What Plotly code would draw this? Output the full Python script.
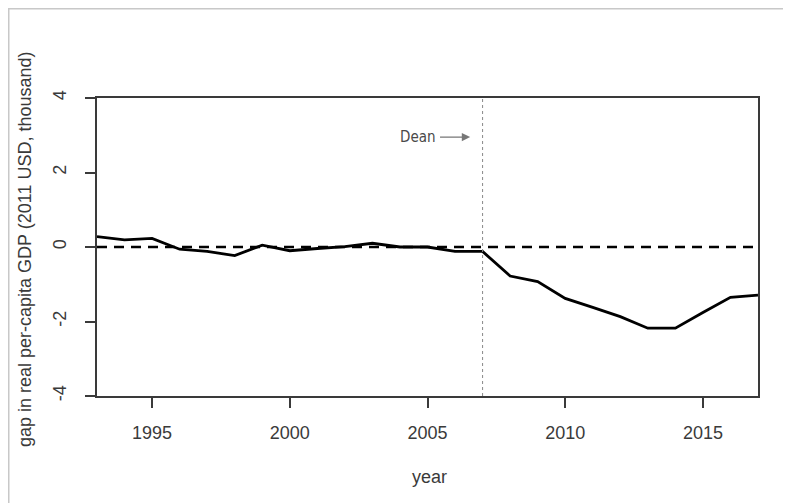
import plotly.graph_objects as go

years = list(range(1993, 2018))
gap = [0.28, 0.19, 0.23, -0.06, -0.12, -0.23, 0.05, -0.10, -0.04, 0.01,
       0.10, 0.00, 0.00, -0.12, -0.12, -0.78, -0.93, -1.38, -1.62, -1.87,
       -2.18, -2.18, -1.76, -1.35, -1.29]
x_ticks = [1995, 2000, 2005, 2010, 2015]
y_ticks = [-4, -2, 0, 2, 4]
y_tick_text = ["-4", "-2", "0", "2", "4"]
treat_year = 2007

FONT = "Liberation Sans, Arial, sans-serif"
GRAY = "#3a3a3a"

# page is drawn with an 8px body margin; work in page pixels and convert
OFF = 8
W, H = 791 - OFF, 503 - OFF
L, T = 97 - OFF, 98 - OFF
R = W - (758 - OFF)
B = H - (396 - OFF)
pw, ph = W - L - R, H - T - B


def px(xp):
    return (xp - OFF - L) / pw


def py(yp):
    return (H - B - (yp - OFF)) / ph


fig = go.Figure()
fig.add_trace(go.Scatter(x=[years[0], years[-1]], y=[0, 0], mode="lines",
                         line=dict(color="black", width=2.6, dash="10px,7px"),
                         hoverinfo="skip", showlegend=False))
fig.add_trace(go.Scatter(x=years, y=gap, mode="lines",
                         line=dict(color="black", width=2.8),
                         showlegend=False))

fig.add_vline(x=treat_year, line=dict(color="#888888", width=1, dash="dot"))

axis_common = dict(showgrid=False, zeroline=False, showline=True, mirror=True,
                   linecolor=GRAY, linewidth=1.6, ticks="outside", ticklen=10,
                   tickwidth=1.6, tickcolor=GRAY,
                   tickfont=dict(family=FONT, size=18, color=GRAY))

fig.update_xaxes(range=[1993, 2017], tickvals=x_ticks, ticklabelstandoff=10,
                 **axis_common)
fig.update_yaxes(range=[-4, 4], tickvals=y_ticks, ticktext=y_tick_text,
                 tickangle=-90, ticklabelstandoff=12, **axis_common)

# Dean annotation + arrow
fig.add_annotation(x=2006.55, y=2.95, ax=2005.4, ay=2.95, xref="x", yref="y",
                   axref="x", ayref="y", showarrow=True, arrowhead=2,
                   arrowsize=1.2, arrowwidth=1.4, arrowcolor="#777777", text="")
fig.add_annotation(x=2004.66, y=2.95, xref="x", yref="y", showarrow=False,
                   xanchor="center", yanchor="middle",
                   text="<span style='font-stretch:condensed'>Dean</span>",
                   font=dict(family="DejaVu Sans Condensed, Liberation Sans Narrow, DejaVu Sans",
                             size=15, color="#4a4a4a"))

# axis titles
fig.add_annotation(x=px(429), y=py(477), xref="paper", yref="paper",
                   showarrow=False, xanchor="center", yanchor="middle",
                   text="year", font=dict(family=FONT, size=18, color=GRAY))
fig.add_annotation(text="gap in real per-capita GDP (2011 USD, thousand)",
                   xref="paper", yref="paper", x=px(25), y=py(249),
                   xanchor="center", yanchor="middle", showarrow=False,
                   textangle=-90, font=dict(family=FONT, size=18, color=GRAY))

# outer image frame (top and left edges)
fig.add_shape(type="line", xref="paper", yref="paper", x0=px(8), x1=px(800),
              y0=py(8.5), y1=py(8.5), line=dict(color="#c8c8c8", width=2))
fig.add_shape(type="line", xref="paper", yref="paper", x0=px(8.5), x1=px(8.5),
              y0=py(8), y1=py(520), line=dict(color="#c8c8c8", width=2))

fig.update_layout(width=W, height=H, margin=dict(l=L, r=R, t=T, b=B),
                  plot_bgcolor="white", paper_bgcolor="white",
                  font=dict(family=FONT))

fig.write_html("out.html")
